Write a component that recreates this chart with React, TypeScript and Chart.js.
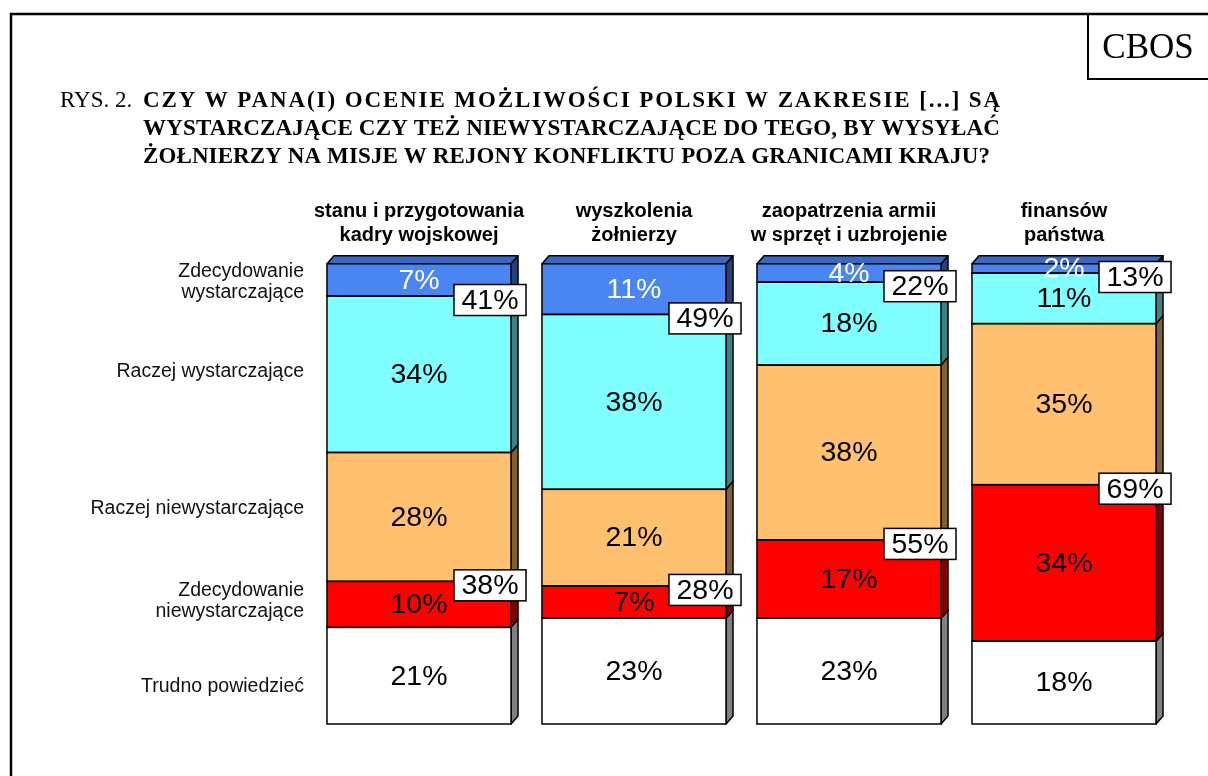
import React, { useEffect, useRef } from "react";
import { Chart, registerables } from "chart.js";
Chart.register(...registerables);

const categories = [
  ["stanu i przygotowania", "kadry wojskowej"],
  ["wyszkolenia", "żołnierzy"],
  ["zaopatrzenia armii", "w sprzęt i uzbrojenie"],
  ["finansów", "państwa"],
];
const seriesNames = [
  "Trudno powiedzieć",
  "Zdecydowanie niewystarczające",
  "Raczej niewystarczające",
  "Raczej wystarczające",
  "Zdecydowanie wystarczające",
];
const rowLabels = [
  ["Trudno powiedzieć"],
  ["Zdecydowanie", "niewystarczające"],
  ["Raczej niewystarczające"],
  ["Raczej wystarczające"],
  ["Zdecydowanie", "wystarczające"],
];
const trudnoPowiedziec = [21, 23, 23, 18];
const zdecydowanieNiewyst = [10, 7, 17, 34];
const raczejNiewyst = [28, 21, 38, 35];
const raczejWyst = [34, 38, 18, 11];
const zdecydowanieWyst = [7, 11, 4, 2];
const titlePrefix = "RYS. 2.";
const titleLines = [
  "CZY W PANA(I) OCENIE MOŻLIWOŚCI POLSKI W ZAKRESIE [...] SĄ",
  "WYSTARCZAJĄCE CZY TEŻ NIEWYSTARCZAJĄCE DO TEGO, BY WYSYŁAĆ",
  "ŻOŁNIERZY NA MISJE W REJONY KONFLIKTU POZA GRANICAMI KRAJU?",
];
const sourceLabel = "CBOS";

const seriesValues = [trudnoPowiedziec, zdecydowanieNiewyst, raczejNiewyst, raczejWyst, zdecydowanieWyst];
const frontColors = ["#FFFFFF", "#FF0000", "#FFC170", "#80FFFF", "#4A86F2"];
const sideColors = ["#808080", "#800000", "#806038", "#408080", "#254379"];
const topColor = "#3A68C0";
const textColors = ["#000", "#000", "#000", "#000", "#FFF"];
const rowNudge = [11, -3, -8, -3, 2];
const titleLineEnds = [1002, 1000, 990];

const SANS = 'Arial, "Liberation Sans", sans-serif';
const SERIF = '"Times New Roman", "Liberation Serif", serif';
const DX = 7;
const DY = 8;

const decor = {
  id: "decor",
  beforeDraw(chart: any) {
    const ctx = chart.ctx;
    ctx.save();
    ctx.fillStyle = "#fff";
    ctx.fillRect(0, 0, chart.width, chart.height);
    ctx.strokeStyle = "#000";
    ctx.lineWidth = 2.5;
    ctx.beginPath();
    ctx.moveTo(11, chart.height);
    ctx.lineTo(11, 14);
    ctx.lineTo(chart.width, 14);
    ctx.stroke();
    ctx.lineWidth = 2;
    ctx.beginPath();
    ctx.moveTo(1088, 14);
    ctx.lineTo(1088, 79);
    ctx.lineTo(chart.width, 79);
    ctx.stroke();
    ctx.fillStyle = "#000";
    ctx.font = `35px ${SERIF}`;
    ctx.textAlign = "center";
    ctx.textBaseline = "alphabetic";
    ctx.fillText(sourceLabel, 1148, 58);
    // title
    ctx.textAlign = "left";
    ctx.font = `23px ${SERIF}`;
    ctx.fillText(titlePrefix, 60, 107);
    ctx.font = `bold 23px ${SERIF}`;
    titleLines.forEach((t, i) => {
      const y = 107 + i * 28;
      const natural = ctx.measureText(t).width;
      const target = titleLineEnds[i] - 143;
      const chars = Array.from(t).length;
      const ls = Math.max(0, (target - natural) / chars);
      if ("letterSpacing" in ctx) {
        ctx.letterSpacing = `${ls}px`;
        ctx.fillText(t, 143, y);
        ctx.letterSpacing = "0px";
      } else {
        ctx.fillText(t, 143, y);
      }
    });
    ctx.restore();
  },
  beforeDatasetsDraw(chart: any) {
    const ctx = chart.ctx;
    ctx.save();
    ctx.strokeStyle = "#000";
    ctx.lineWidth = 1.5;
    ctx.lineJoin = "round";
    const n = chart.data.datasets.length;
    for (let i = 0; i < n; i++) {
      const meta = chart.getDatasetMeta(i);
      meta.data.forEach((bar: any) => {
        const p = bar.getProps(["x", "y", "base", "width"], true);
        const right = p.x + p.width / 2;
        const left = p.x - p.width / 2;
        const top = Math.min(p.y, p.base);
        const bottom = Math.max(p.y, p.base);
        ctx.fillStyle = sideColors[i];
        ctx.beginPath();
        ctx.moveTo(right, top);
        ctx.lineTo(right + DX, top - DY);
        ctx.lineTo(right + DX, bottom - DY);
        ctx.lineTo(right, bottom);
        ctx.closePath();
        ctx.fill();
        ctx.stroke();
        if (i === n - 1) {
          ctx.fillStyle = topColor;
          ctx.beginPath();
          ctx.moveTo(left, top);
          ctx.lineTo(left + DX, top - DY);
          ctx.lineTo(right + DX, top - DY);
          ctx.lineTo(right, top);
          ctx.closePath();
          ctx.fill();
          ctx.stroke();
        }
      });
    }
    ctx.restore();
  },
  afterDatasetsDraw(chart: any) {
    const ctx = chart.ctx;
    ctx.save();
    const n = chart.data.datasets.length;
    ctx.strokeStyle = "#000";
    ctx.lineWidth = 1.5;
    for (let i = 0; i < n; i++) {
      chart.getDatasetMeta(i).data.forEach((bar: any) => {
        const p = bar.getProps(["x", "y", "base", "width"], true);
        const top = Math.min(p.y, p.base);
        const h = Math.abs(p.base - p.y);
        ctx.strokeRect(p.x - p.width / 2, top, p.width, h);
      });
    }
    ctx.font = `28.5px ${SANS}`;
    ctx.textAlign = "center";
    ctx.textBaseline = "middle";
    for (let i = 0; i < n; i++) {
      const ds = chart.data.datasets[i];
      chart.getDatasetMeta(i).data.forEach((bar: any, j: number) => {
        const p = bar.getProps(["x", "y", "base"], true);
        ctx.fillStyle = textColors[i];
        ctx.fillText(`${ds.data[j]}%`, p.x, (p.y + p.base) / 2 + 1);
      });
    }
    ctx.font = `19.5px ${SANS}`;
    ctx.fillStyle = "#111";
    ctx.textAlign = "right";
    for (let i = 0; i < n; i++) {
      const bar = chart.getDatasetMeta(i).data[0];
      const p = bar.getProps(["x", "y", "base", "width"], true);
      const cy = (p.y + p.base) / 2 + rowNudge[i];
      const lines = rowLabels[i];
      const lh = 21.5;
      const x = p.x - p.width / 2 - 23;
      lines.forEach((l, k) => {
        ctx.fillText(l, x, cy + (k - (lines.length - 1) / 2) * lh);
      });
    }
    const drawBox = (text: string, rightX: number, cy: number) => {
      ctx.font = `28.5px ${SANS}`;
      const w = ctx.measureText(text).width + 15;
      const h = 31;
      ctx.fillStyle = "#fff";
      ctx.fillRect(rightX - w, cy - h / 2, w, h);
      ctx.strokeStyle = "#000";
      ctx.lineWidth = 1.5;
      ctx.strokeRect(rightX - w, cy - h / 2, w, h);
      ctx.fillStyle = "#000";
      ctx.textAlign = "center";
      ctx.textBaseline = "middle";
      ctx.fillText(text, rightX - w / 2, cy + 1);
    };
    const rwMeta = chart.getDatasetMeta(3);
    const znMeta = chart.getDatasetMeta(1);
    categories.forEach((_, j) => {
      const rw = rwMeta.data[j].getProps(["x", "y", "width"], true);
      const zn = znMeta.data[j].getProps(["x", "y", "width"], true);
      const topSum = zdecydowanieWyst[j] + raczejWyst[j];
      const botSum = zdecydowanieNiewyst[j] + raczejNiewyst[j];
      drawBox(`${topSum}%`, rw.x + rw.width / 2 + 15, rw.y + 4);
      drawBox(`${botSum}%`, zn.x + zn.width / 2 + 15, zn.y + 4);
    });
    ctx.restore();
  },
};

export default function App() {
  const ref = useRef<HTMLCanvasElement>(null);
  useEffect(() => {
    document.body.style.margin = "0";
    const chart = new Chart(ref.current as HTMLCanvasElement, {
      type: "bar",
      data: {
        labels: categories,
        datasets: seriesValues.map((vals, i) => ({
          label: seriesNames[i],
          data: vals,
          backgroundColor: frontColors[i],
          borderWidth: 0,
          categoryPercentage: 1,
          barPercentage: 0.856,
        })),
      },
      options: {
        responsive: false,
        animation: false,
        devicePixelRatio: 1,
        layout: { padding: { left: 311.5, right: 36.5, top: 183, bottom: 52 } },
        plugins: {
          legend: { display: false },
          tooltip: { enabled: false },
          title: { display: false },
        },
        scales: {
          x: {
            stacked: true,
            position: "top",
            grid: { display: false, drawTicks: false },
            border: { display: false },
            ticks: {
              color: "#000",
              autoSkip: false,
              maxRotation: 0,
              padding: 16,
              font: { family: SANS, size: 20, weight: "bold", lineHeight: 1.22 },
            },
          },
          y: { stacked: true, display: false, min: 0, max: 100 },
        },
      },
      plugins: [decor],
    });
    return () => chart.destroy();
  }, []);
  return (
    <div style={{ width: 1208, height: 776 }}>
      <canvas ref={ref} width={1208} height={776} style={{ display: "block" }} />
    </div>
  );
}
